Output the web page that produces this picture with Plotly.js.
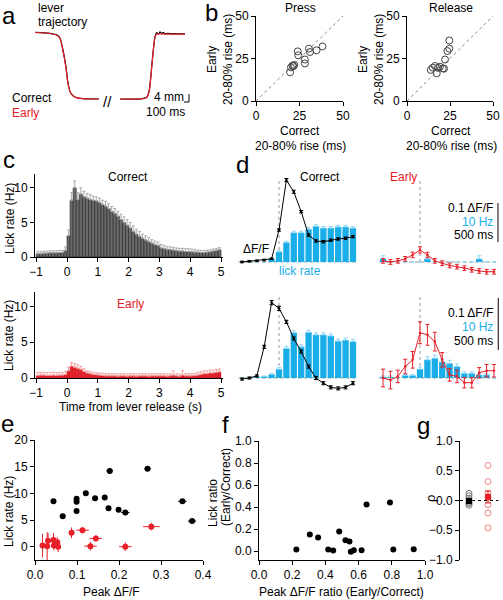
<!DOCTYPE html>
<html><head><meta charset="utf-8">
<script src="https://cdn.plot.ly/plotly-3.0.1.min.js"></script>
<style>html,body{margin:0;padding:0;background:#fff}#chart{width:503px;height:600px}</style>
</head><body><div id="chart"></div>
<script>
// ---------- Panel a: lever trajectory (ms, mm) ----------
const pressTime = [0,300,440,500,560,620,660,714,800,960,1280];
const pressCorrect = [33.1,32.6,31.75,30.25,24.25,15.75,7.75,2.75,0.75,-0.1,-0.25];
const pressEarly = [33.0,32.5,31.6,30.0,23.8,15.2,7.4,2.6,0.7,-0.1,-0.25];
const releaseTime = [1700,2100,2234,2286,2334,2366,2400,2434,2470,2500,2530,2560,2600,2650,2750,3000];
const releaseCorrect = [-0.25,-0.25,0.6,4.25,15.9,24.25,30.9,33.0,32.2,33.3,32.4,33.1,32.4,32.6,32.4,32.3];
const releaseEarly = [-0.25,-0.25,0.5,4.0,15.5,24.0,30.7,32.2,32.3,32.3,32.3,32.2,32.2,32.2,32.2,32.2];

// ---------- Panel b: 20-80% rise (ms) ----------
const pressCorrectRise = [19.6,20.1,21.0,22.0,21.5,24.0,24.3,28.1,28.1,30.4,31.0,34.8,38.2];
const pressEarlyRise   = [16.9,19.8,20.8,21.2,20.5,29.2,26.9,24.4,22.1,30.8,28.8,29.8,32.1];
const releaseCorrectRise = [13.8,15.0,16.3,17.3,18.0,19.2,20.8,21.5,22.1,23.5,24.6,24.6];
const releaseEarlyRise   = [18.3,19.6,20.6,16.3,19.5,20.2,19.2,19.0,24.4,29.4,30.8,35.6];

// ---------- Panel c: lick rate histograms ----------
const timeBins = [-0.95,-0.85,-0.75,-0.65,-0.55,-0.45,-0.35,-0.25,-0.15,-0.05,
  0.05,0.15,0.25,0.35,0.45,0.55,0.65,0.75,0.85,0.95,
  1.05,1.15,1.25,1.35,1.45,1.55,1.65,1.75,1.85,1.95,
  2.05,2.15,2.25,2.35,2.45,2.55,2.65,2.75,2.85,2.95,
  3.05,3.15,3.25,3.35,3.45,3.55,3.65,3.75,3.85,3.95,
  4.05,4.15,4.25,4.35,4.45,4.55,4.65,4.75,4.85,4.95];
const correctLick = [0.45,0.5,0.55,0.55,0.6,0.6,0.6,0.65,0.65,0.95,
  3.1,8.2,10.0,8.3,9.1,8.7,8.5,8.3,8.2,8.1,
  7.9,7.6,7.35,7.0,6.6,6.3,5.9,5.4,5.0,4.6,
  4.2,3.7,3.3,3.0,2.7,2.45,2.2,2.0,1.8,1.65,
  1.3,1.2,1.1,1.05,1.0,0.9,0.85,0.85,0.8,0.8,
  0.75,0.7,0.7,0.65,0.65,0.7,0.75,0.85,0.95,1.05];
const correctErr = [0.3,0.3,0.3,0.3,0.3,0.3,0.3,0.3,0.3,0.5,
  0.8,1.1,1.0,1.0,0.9,0.8,0.7,0.7,0.6,0.6,
  0.6,0.6,0.7,0.7,0.7,0.7,0.7,0.8,0.8,0.8,
  0.8,0.8,0.7,0.7,0.6,0.6,0.6,0.5,0.5,0.5,
  0.5,0.5,0.4,0.4,0.4,0.4,0.4,0.4,0.4,0.4,
  0.4,0.4,0.3,0.3,0.3,0.3,0.3,0.3,0.3,0.3];
const earlyLick = [0.35,0.4,0.4,0.35,0.35,0.4,0.35,0.4,0.4,0.5,
  1.0,1.65,1.5,1.35,1.2,0.9,0.7,0.6,0.5,0.45,
  0.4,0.35,0.3,0.3,0.3,0.3,0.25,0.3,0.3,0.25,
  0.3,0.3,0.25,0.3,0.3,0.3,0.25,0.3,0.3,0.3,
  0.3,0.3,0.25,0.3,0.4,0.3,0.25,0.4,0.3,0.3,
  0.3,0.35,0.4,0.5,0.6,0.6,0.7,0.7,0.8,0.85];
const earlyErr = [0.4,0.4,0.4,0.4,0.4,0.4,0.4,0.4,0.4,0.4,
  0.5,0.5,0.5,0.5,0.4,0.4,0.3,0.3,0.3,0.3,
  0.3,0.3,0.3,0.3,0.3,0.3,0.3,0.3,0.3,0.3,
  0.3,0.3,0.3,0.3,0.3,0.3,0.3,0.3,0.3,0.3,
  0.3,0.3,0.3,0.3,0.6,0.3,0.3,0.6,0.3,0.3,
  0.3,0.3,0.4,0.4,0.4,0.4,0.4,0.4,0.4,0.4];

// ---------- Panel d: example sessions ----------
const dTime = [-0.5,-0.4,-0.3,-0.2,-0.1,0,0.1,0.2,0.3,0.4,0.5,0.6,0.7,0.8,0.9,1.0];
const ex1CorrectDff = [0.0,0.002,0.003,0.005,0.008,0.082,0.21,0.18,0.129,0.069,0.054,0.052,0.056,0.059,0.061,0.065];
const ex1CorrectDffErr = [0.002,0.002,0.002,0.002,0.002,0.003,0.004,0.004,0.003,0.003,0.003,0.003,0.003,0.003,0.003,0.003];
const ex1CorrectLick = [0,0,0,0,0.8,2.6,5.0,7.5,7.5,8.4,9.15,8.7,8.7,9.0,9.0,8.7];
const ex1CorrectLickErr = [0,0,0,0,0.2,0.3,0.3,0.4,0.4,0.4,0.4,0.4,0.4,0.4,0.4,0.4];
const ex1EarlyDff = [0.003,0.0,0.003,0.008,0.018,0.031,0.018,0.003,-0.003,-0.009,-0.012,-0.016,-0.02,-0.023,-0.025,-0.025];
const ex1EarlyDffErr = [0.006,0.006,0.006,0.006,0.007,0.008,0.007,0.006,0.006,0.006,0.006,0.006,0.006,0.006,0.006,0.006];
const ex1EarlyLick = [0.8,0,0,0,0,0,0.8,0,0,0,0,0,0,0.8,0,0];
const ex1EarlyLickErr = [0.8,0,0,0,0,0,0.5,0,0,0,0,0,0,0.8,0,0];
const ex2CorrectDff = [-0.002,0.0,0.004,0.06,0.145,0.134,0.108,0.076,0.051,0.022,0.0,-0.010,-0.018,-0.020,-0.018,-0.010];
const ex2CorrectDffErr = [0.002,0.002,0.002,0.003,0.004,0.004,0.003,0.003,0.003,0.003,0.003,0.003,0.003,0.003,0.003,0.003];
const ex2CorrectLick = [0,0,0.25,0.3,0.7,1.7,5.7,8.7,6.0,8.8,8.3,8.3,8.1,7.1,7.3,7.0];
const ex2CorrectLickErr = [0,0,0.1,0.1,0.2,0.3,0.4,0.4,0.4,0.4,0.4,0.4,0.4,0.4,0.4,0.4];
const ex2EarlyDff = [0.0,-0.004,0.003,0.022,0.035,0.087,0.083,0.070,0.035,0.006,0.003,-0.009,-0.009,0.010,0.014,0.014];
const ex2EarlyDffErr = [0.017,0.017,0.012,0.014,0.016,0.021,0.02,0.018,0.014,0.012,0.012,0.01,0.01,0.01,0.012,0.012];
const ex2EarlyLick = [0.2,0.2,0,0.5,0.5,1.7,3.5,3.8,3.1,2.8,2.2,0.9,0.9,0.6,0.6,0];
const ex2EarlyLickErr = [0.2,0.2,0,0.2,0.2,0.4,0.6,0.6,0.6,0.6,0.5,0.3,0.3,0.3,0.3,0];

// ---------- Panel e ----------
const eCorrectPeak = [0.044,0.066,0.099,0.099,0.099,0.121,0.143,0.166,0.175,0.178,0.199,0.215,0.268,0.351,0.374];
const eCorrectPeakErr = [0.003,0.003,0.003,0.003,0.003,0.004,0.004,0.004,0.005,0.008,0.004,0.01,0.008,0.01,0.01];
const eCorrectLick = [8.5,5.7,6.7,8.4,9.0,10.0,9.1,9.2,7.2,14.2,6.9,6.4,14.6,8.5,4.8];
const eCorrectLickErr = [0.2,0.2,0.2,0.2,0.2,0.2,0.2,0.2,0.2,0.5,0.2,0.2,0.2,0.2,0.2];
const eEarlyPeak = [0.018,0.029,0.031,0.044,0.045,0.053,0.055,0.087,0.113,0.132,0.145,0.215,0.277];
const eEarlyPeakErr = [0.004,0.003,0.004,0.004,0.004,0.004,0.004,0.005,0.015,0.015,0.015,0.015,0.02];
const eEarlyLick = [0.2,0.1,1.1,1.25,0.2,0.85,0.0,2.6,3.1,0.1,1.55,0.0,3.75];
const eEarlyLickErr = [2.2,2.6,1.5,1.3,0.9,0.9,1.0,1.0,0.6,0.8,0.6,0.8,0.7];

// ---------- Panel f ----------
const fPeakRatio = [0.225,0.306,0.356,0.417,0.447,0.483,0.521,0.545,0.553,0.571,0.618,0.648,0.789,0.809,0.932];
const fLickRatio = [0.015,0.152,0.124,0.015,0.006,0.179,0.1,0.088,-0.006,0.009,0.009,0.424,0.442,0.015,0.018];

// ---------- Panel g ----------
const gCorrect = [0.12,0.08,0.04,0.0,-0.03,-0.05,-0.08];
const gCorrectMean = -0.01, gCorrectSem = 0.03;
const gEarly = [0.59,0.32,0.12,0.06,-0.07,-0.21,-0.46];
const gEarlyMean = 0.06, gEarlySem = 0.1;

// ---------- helpers ----------
const W = 503, H = 600;
const RED = '#e8202a', BLUE = '#1aaee8', LBLUE = '#8fd6f5';
function xd(a,b){return [a/W, b/W];}
function yd(t,b){return [1-b/H, 1-t/H];}
const zeros = n => new Array(n).fill(0);
const vis = {showline:true, linecolor:'black', linewidth:1, ticks:'outside', ticklen:4, tickwidth:1, tickcolor:'black',
  showgrid:false, zeroline:false, tickfont:{size:12, color:'black'}, fixedrange:true};
const hid = {visible:false, showgrid:false, zeroline:false, fixedrange:true};
function ann(text, px, py, o){
  o = o || {};
  return Object.assign({x:px/W, y:1-py/H, xref:'paper', yref:'paper', text:text, showarrow:false,
    xanchor:'center', yanchor:'middle', font:{size:o.size||12, color:o.color||'black'}}, o.extra||{});
}

const traces = [];
// Panel a
traces.push({x:pressTime, y:pressCorrect, xaxis:'x', yaxis:'y', mode:'lines', line:{color:'black', width:1.2, shape:'spline', smoothing:0.6}});
traces.push({x:releaseTime, y:releaseCorrect, xaxis:'x', yaxis:'y', mode:'lines', line:{color:'black', width:1.2, shape:'spline', smoothing:0.6}});
traces.push({x:pressTime, y:pressEarly, xaxis:'x', yaxis:'y', mode:'lines', line:{color:RED, width:1.2, shape:'spline', smoothing:0.6}});
traces.push({x:releaseTime, y:releaseEarly, xaxis:'x', yaxis:'y', mode:'lines', line:{color:RED, width:1.2, shape:'spline', smoothing:0.6}});

// Panel b
[['x2','y2',pressCorrectRise,pressEarlyRise],['x3','y3',releaseCorrectRise,releaseEarlyRise]].forEach(p=>{
  traces.push({x:[0,50], y:[0,50], xaxis:p[0], yaxis:p[1], mode:'lines', line:{color:'#777', width:0.9, dash:'dot'}});
  traces.push({x:p[2], y:p[3], xaxis:p[0], yaxis:p[1], mode:'markers',
    marker:{symbol:'circle-open', size:7, color:'#444', line:{width:1, color:'#444'}}});
});

// Panel c
traces.push({type:'bar', x:timeBins, y:correctLick, width:0.1, xaxis:'x4', yaxis:'y4',
  marker:{color:'#6a6a6a', line:{color:'#222', width:0.6}},
  error_y:{type:'data', symmetric:false, array:correctErr, arrayminus:zeros(60), color:'#aaa', thickness:1, width:1.5}});
traces.push({type:'bar', x:timeBins, y:earlyLick, width:0.1, xaxis:'x5', yaxis:'y5',
  marker:{color:RED, line:{color:'#b01018', width:0.4}},
  error_y:{type:'data', symmetric:false, array:earlyErr, arrayminus:zeros(60), color:'#f3a0a0', thickness:1, width:1.5}});

// Panel d
function dPanel(xa, yHz, yDff, lick, lickErr, dff, dffErr, col){
  traces.push({type:'bar', x:dTime, y:lick, width:0.085, xaxis:xa, yaxis:yHz,
    marker:{color:BLUE, line:{width:0}},
    error_y:{type:'data', symmetric:false, array:lickErr, arrayminus:zeros(lick.length), color:LBLUE, thickness:1, width:2}});
  traces.push({x:dTime, y:dff, xaxis:xa, yaxis:yDff, mode:'lines+markers',
    line:{color:col, width:1}, marker:{size:2.5, color:col},
    error_y:{type:'data', array:dffErr, color:col, thickness:1, width:2}});
}
dPanel('x6','y6','y7', ex1CorrectLick, ex1CorrectLickErr, ex1CorrectDff, ex1CorrectDffErr, 'black');
dPanel('x8','y8','y9', ex1EarlyLick, ex1EarlyLickErr, ex1EarlyDff, ex1EarlyDffErr, RED);
dPanel('x10','y10','y11', ex2CorrectLick, ex2CorrectLickErr, ex2CorrectDff, ex2CorrectDffErr, 'black');
dPanel('x12','y12','y13', ex2EarlyLick, ex2EarlyLickErr, ex2EarlyDff, ex2EarlyDffErr, RED);

// Panel e
traces.push({x:eCorrectPeak, y:eCorrectLick, xaxis:'x14', yaxis:'y14', mode:'markers',
  marker:{size:6, color:'black'},
  error_x:{type:'data', array:eCorrectPeakErr, color:'black', thickness:1, width:0},
  error_y:{type:'data', array:eCorrectLickErr, color:'black', thickness:1, width:0}});
traces.push({x:eEarlyPeak, y:eEarlyLick, xaxis:'x14', yaxis:'y14', mode:'markers',
  marker:{size:6, color:RED},
  error_x:{type:'data', array:eEarlyPeakErr, color:RED, thickness:1, width:0},
  error_y:{type:'data', array:eEarlyLickErr, color:RED, thickness:1, width:0}});

// Panel f
traces.push({x:fPeakRatio, y:fLickRatio, xaxis:'x15', yaxis:'y15', mode:'markers', marker:{size:6, color:'black'}});

// Panel g
traces.push({x:gCorrect.map(()=>1), y:gCorrect, xaxis:'x16', yaxis:'y16', mode:'markers',
  marker:{symbol:'circle-open', size:6, color:'#777', line:{width:1, color:'#777'}}});
traces.push({x:gEarly.map(()=>2), y:gEarly, xaxis:'x16', yaxis:'y16', mode:'markers',
  marker:{symbol:'circle-open', size:6, color:'#f08080', line:{width:1, color:'#f08080'}}});
traces.push({x:[1], y:[gCorrectMean], xaxis:'x16', yaxis:'y16', mode:'markers',
  marker:{symbol:'square', size:6, color:'black'}, error_y:{type:'data', array:[gCorrectSem], color:'black', thickness:1, width:3}});
traces.push({x:[2], y:[gEarlyMean], xaxis:'x16', yaxis:'y16', mode:'markers',
  marker:{symbol:'square', size:6, color:RED}, error_y:{type:'data', array:[gEarlySem], color:RED, thickness:1, width:3}});

// ---------- layout ----------
const topDffRange = [-0.0385, 0.241], botDffRange = [-0.0327, 0.1885];
const layout = {
  width:W, height:H, margin:{l:0,r:0,t:0,b:0}, showlegend:false, barmode:'overlay',
  paper_bgcolor:'white', plot_bgcolor:'rgba(0,0,0,0)',
  font:{family:'"Liberation Sans", Arial, sans-serif', size:12, color:'black'},
  xaxis:Object.assign({}, hid, {domain:xd(35,192), range:[0,3140], anchor:'y'}),
  yaxis:Object.assign({}, hid, {domain:yd(25,105), range:[-3.25,36.75], anchor:'x'}),
  xaxis2:Object.assign({}, vis, {domain:xd(256,343), range:[0,50], tickvals:[0,25,50], anchor:'y2'}),
  yaxis2:Object.assign({}, vis, {domain:yd(16,101), range:[0,50], tickvals:[0,25,50], anchor:'x2'}),
  xaxis3:Object.assign({}, vis, {domain:xd(407,493), range:[0,50], tickvals:[0,25,50], anchor:'y3'}),
  yaxis3:Object.assign({}, vis, {domain:yd(16,101), range:[0,50], tickvals:[0,25,50], anchor:'x3'}),
  xaxis4:Object.assign({}, vis, {domain:xd(35,223), range:[-1.039,5.065], tickvals:[-1,0,1,2,3,4,5], anchor:'y4'}),
  yaxis4:Object.assign({}, vis, {domain:yd(174,257), range:[0,12], tickvals:[0,5,10], anchor:'x4'}),
  xaxis5:Object.assign({}, vis, {domain:xd(35,223), range:[-1.039,5.065], tickvals:[-1,0,1,2,3,4,5], anchor:'y5'}),
  yaxis5:Object.assign({}, vis, {domain:yd(292,378), range:[0,12], tickvals:[0,5,10], anchor:'x5'}),
  xaxis6:Object.assign({}, hid, {domain:xd(236,360), range:[-0.581,1.095], anchor:'y6'}),
  yaxis6:Object.assign({}, hid, {domain:yd(168,277), range:[topDffRange[0]*100, topDffRange[1]*100], anchor:'x6'}),
  yaxis7:Object.assign({}, hid, {overlaying:'y6', range:topDffRange, anchor:'x6'}),
  xaxis8:Object.assign({}, hid, {domain:xd(378,501), range:[-0.568,1.095], anchor:'y8'}),
  yaxis8:Object.assign({}, hid, {domain:yd(168,277), range:[topDffRange[0]*100, topDffRange[1]*100], anchor:'x8'}),
  yaxis9:Object.assign({}, hid, {overlaying:'y8', range:topDffRange, anchor:'x8'}),
  xaxis10:Object.assign({}, hid, {domain:xd(236,360), range:[-0.581,1.095], anchor:'y10'}),
  yaxis10:Object.assign({}, hid, {domain:yd(280,395), range:[botDffRange[0]*100, botDffRange[1]*100], anchor:'x10'}),
  yaxis11:Object.assign({}, hid, {overlaying:'y10', range:botDffRange, anchor:'x10'}),
  xaxis12:Object.assign({}, hid, {domain:xd(378,501), range:[-0.568,1.095], anchor:'y12'}),
  yaxis12:Object.assign({}, hid, {domain:yd(280,395), range:[botDffRange[0]*100, botDffRange[1]*100], anchor:'x12'}),
  yaxis13:Object.assign({}, hid, {overlaying:'y12', range:botDffRange, anchor:'x12'}),
  xaxis14:Object.assign({}, vis, {domain:xd(35,203), range:[0,0.4], tickvals:[0,0.1,0.2,0.3,0.4], tickformat:'.1f', anchor:'y14'}),
  yaxis14:Object.assign({}, vis, {domain:yd(440,560), range:[-2.5,20], tickvals:[0,5,10,15,20], anchor:'x14'}),
  xaxis15:Object.assign({}, vis, {domain:xd(259,425), range:[0,1], tickvals:[0,0.2,0.4,0.6,0.8,1.0], tickformat:'.1f', anchor:'y15'}),
  yaxis15:Object.assign({}, vis, {domain:yd(441,560), range:[-0.08,1.0], tickvals:[0,0.2,0.4,0.6,0.8,1.0], tickformat:'.1f', anchor:'x15'}),
  xaxis16:Object.assign({}, hid, {domain:xd(460,499), range:[0.526,2.58], anchor:'y16'}),
  yaxis16:Object.assign({}, vis, {domain:yd(441,560), range:[-1,1], tickvals:[-1,-0.5,0,0.5,1], tickformat:'.1f', anchor:'x16'}),
  shapes:[], annotations:[]
};

const S = layout.shapes;
// panel a scale bar
S.push({type:'line', xref:'x', yref:'y', x0:3080, x1:3080, y0:-1.75, y1:2.25, line:{color:'black', width:1}});
S.push({type:'line', xref:'x', yref:'y', x0:2980, x1:3080, y0:-1.75, y1:-1.75, line:{color:'black', width:1}});
// panel d guides
[['x6','y7',0.215],['x8','y9',0.215],['x10','y11',0.16],['x12','y13',0.16]].forEach(p=>{
  S.push({type:'line', xref:p[0], yref:p[1], x0:-0.55, x1:1.05, y0:0, y1:0, line:{color:'#999', width:1, dash:'dot'}, layer:'below'});
  S.push({type:'line', xref:p[0], yref:p[1], x0:0, x1:0, y0:0, y1:p[2], line:{color:'#999', width:1, dash:'dot'}, layer:'below'});
});
S.push({type:'line', xref:'x8', yref:'y9', x0:1.054, x1:1.054, y0:0.051, y1:0.151, line:{color:'black', width:1}});
S.push({type:'line', xref:'x12', yref:'y13', x0:1.058, x1:1.058, y0:0.054, y1:0.154, line:{color:'black', width:1}});
// panel g zero line
S.push({type:'line', xref:'x16', yref:'y16', x0:0.526, x1:2.55, y0:0, y1:0, line:{color:'black', width:1, dash:'dot'}, layer:'below'});

const A = layout.annotations;
// panel letters
[['a',9,15],['b',211,12],['c',9,160],['d',242,164],['e',7,423],['f',225,424],['g',423,425]].forEach(l=>{
  A.push(ann(l[0], l[1], l[2], {size:24}));
});
// panel a texts
A.push(ann('lever', 36, 8, {size:12, extra:{xanchor:'left'}}));
A.push(ann('trajectory', 36, 22, {size:12, extra:{xanchor:'left'}}));
A.push(ann('Correct', 10, 98, {size:12, extra:{xanchor:'left'}}));
A.push(ann('Early', 10, 113, {size:12, color:RED, extra:{xanchor:'left'}}));
A.push(ann('//', 107, 101, {size:15}));
A.push(ann('4 mm', 186, 97, {size:12, extra:{xanchor:'right'}}));
A.push(ann('100 ms', 187, 112, {size:12, extra:{xanchor:'right'}}));
// panel b texts
A.push(ann('Press', 300, 8, {size:12}));
A.push(ann('Release', 451, 8, {size:12}));
A.push(ann('Early', 212, 60, {size:12, extra:{textangle:-90}}));
A.push(ann('20-80% rise (ms)', 228, 60, {size:12, extra:{textangle:-90}}));
A.push(ann('Early', 363, 60, {size:12, extra:{textangle:-90}}));
A.push(ann('20-80% rise (ms)', 379, 60, {size:12, extra:{textangle:-90}}));
A.push(ann('Correct', 300, 131, {size:12}));
A.push(ann('20-80% rise (ms)', 300, 146, {size:12}));
A.push(ann('Correct', 451, 131, {size:12}));
A.push(ann('20-80% rise (ms)', 451, 146, {size:12}));
// panel c texts
A.push(ann('Correct', 128, 177, {size:12}));
A.push(ann('Early', 130, 304, {size:12, color:RED}));
A.push(ann('Lick rate (Hz)', 10, 219, {size:12, extra:{textangle:-90}}));
A.push(ann('Lick rate (Hz)', 9, 336, {size:12, extra:{textangle:-90}}));
A.push(ann('Time from lever release (s)', 130, 407, {size:12}));
// panel d texts
A.push(ann('Correct', 320, 177, {size:12}));
A.push(ann('Early', 403, 177, {size:12, color:RED}));
A.push(ann('ΔF/F', 256, 249, {size:12}));
A.push(ann('lick rate', 300, 271, {size:12, color:BLUE}));
[[208,222,235],[313,327,341]].forEach(r=>{
  A.push(ann('0.1 ΔF/F', 495, r[0], {size:12, extra:{xanchor:'right'}}));
  A.push(ann('10 Hz', 495, r[1], {size:12, color:BLUE, extra:{xanchor:'right'}}));
  A.push(ann('500 ms', 495, r[2], {size:12, extra:{xanchor:'right'}}));
});
// panel e/f/g titles
A.push(ann('Lick rate (Hz)', 9, 512, {size:12, extra:{textangle:-90}}));
A.push(ann('Peak ΔF/F', 111, 592, {size:12}));
A.push(ann('Lick ratio', 213, 503, {size:12, extra:{textangle:-90}}));
A.push(ann('(Early/Correct)', 226, 487, {size:12, extra:{textangle:-90}}));
A.push(ann('Peak ΔF/F ratio (Early/Correct)', 341, 592, {size:12}));
A.push(ann('ρ', 430, 499, {size:13, extra:{textangle:-90}}));

Plotly.newPlot('chart', traces, layout, {staticPlot:true, displayModeBar:false});
</script></body></html>
